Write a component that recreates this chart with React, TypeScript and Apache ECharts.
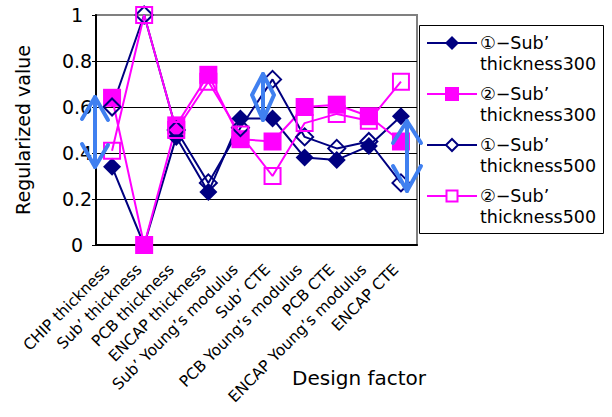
import React, { useEffect, useRef } from "react";
import * as echarts from "echarts";

const FONT = "'DejaVu Sans', 'Noto Sans CJK JP', sans-serif";
const NAVY = "#000080";
const MAGENTA = "#ff00ff";
const ARROW = "#4080f0";

const categories = [
  "CHIP thickness",
  "Sub’ thickness",
  "PCB thickness",
  "ENCAP thickness",
  "Sub’ Young’s modulus",
  "Sub’ CTE",
  "PCB Young’s modulus",
  "PCB CTE",
  "ENCAP Young’s modulus",
  "ENCAP CTE",
];

const seriesNames = [
  "①−Sub’ thickness300",
  "②−Sub’ thickness300",
  "①−Sub’ thickness500",
  "②−Sub’ thickness500",
];

const sub1Thick300 = [0.34, 0.0, 0.47, 0.23, 0.55, 0.55, 0.38, 0.37, 0.43, 0.56];
const sub2Thick300 = [0.64, 0.0, 0.52, 0.74, 0.46, 0.45, 0.6, 0.61, 0.56, 0.45];
const sub1Thick500 = [0.6, 1.0, 0.5, 0.27, 0.51, 0.72, 0.47, 0.42, 0.45, 0.27];
const sub2Thick500 = [0.41, 1.0, 0.5, 0.71, 0.48, 0.3, 0.53, 0.57, 0.54, 0.71];

const yTicks = { min: 0, max: 1, interval: 0.2 };

export default function App() {
  const ref = useRef<HTMLDivElement>(null);

  useEffect(() => {
    if (!ref.current) return;
    const chart = echarts.init(ref.current, null, { renderer: "svg" });

    const filled = (color: string) => ({ color });
    const open = (color: string) => ({
      color: "rgba(255,255,255,0)",
      borderColor: color,
      borderWidth: 2,
    });

    const mk = (
      name: string,
      data: number[],
      color: string,
      symbol: string,
      size: number,
      isOpen: boolean
    ) => ({
      name,
      type: "line",
      data,
      symbol,
      symbolSize: size,
      showAllSymbol: true,
      lineStyle: { color, width: 2 },
      itemStyle: isOpen ? open(color) : filled(color),
      emphasis: { disabled: true },
      silent: true,
    });

    // legend (drawn as graphic)
    const legendRows = [
      { color: NAVY, shape: "diamond", open: false, l1: "①−Sub’", l2: "thickness300" },
      { color: MAGENTA, shape: "square", open: false, l1: "②−Sub’", l2: "thickness300" },
      { color: NAVY, shape: "diamond", open: true, l1: "①−Sub’", l2: "thickness500" },
      { color: MAGENTA, shape: "square", open: true, l1: "②−Sub’", l2: "thickness500" },
    ];
    const legendEls: any[] = [
      {
        type: "rect",
        shape: { x: 419.5, y: 25.5, width: 184, height: 208 },
        style: { fill: "#fff", stroke: "#000", lineWidth: 1 },
        z: 50,
      },
    ];
    legendRows.forEach((r, i) => {
      const y = 43 + 51 * i;
      legendEls.push({
        type: "line",
        shape: { x1: 427, y1: y, x2: 477, y2: y },
        style: { stroke: r.color, lineWidth: 2 },
        z: 51,
      });
      if (r.shape === "diamond") {
        const h = r.open ? 6 : 7;
        legendEls.push({
          type: "polygon",
          shape: { points: [[452, y - h], [452 + h, y], [452, y + h], [452 - h, y]] },
          style: r.open
            ? { fill: "#fff", stroke: r.color, lineWidth: 2 }
            : { fill: r.color },
          z: 52,
        });
      } else {
        const s = r.open ? 11 : 14;
        legendEls.push({
          type: "rect",
          shape: { x: 452 - s / 2, y: y - s / 2, width: s, height: s },
          style: r.open
            ? { fill: "#fff", stroke: r.color, lineWidth: 2 }
            : { fill: r.color },
          z: 52,
        });
      }
      legendEls.push({
        type: "text",
        x: 480,
        y: y - 11,
        style: {
          text: r.l1 + "\n" + r.l2,
          fontFamily: FONT,
          fontSize: 17.5,
          lineHeight: 21,
          fill: "#000",
          verticalAlign: "top",
        },
        z: 52,
      });
    });

    // blue double-headed arrows (annotations)
    const arrowStyle = { stroke: ARROW, lineWidth: 4, fill: "none", lineCap: "round", lineJoin: "round" };
    const arrows: any[] = [
      { type: "line", shape: { x1: 95, y1: 97, x2: 95, y2: 167 }, style: arrowStyle, z: 60 },
      { type: "polyline", shape: { points: [[82, 119], [95, 97], [108, 120]] }, style: arrowStyle, z: 60 },
      { type: "polyline", shape: { points: [[82, 144], [95, 167], [108, 145]] }, style: arrowStyle, z: 60 },
      { type: "line", shape: { x1: 263, y1: 74, x2: 263, y2: 120 }, style: arrowStyle, z: 60 },
      { type: "polygon", shape: { points: [[263, 74], [252, 95], [263, 120], [274, 95]] }, style: arrowStyle, z: 60 },
      { type: "line", shape: { x1: 407, y1: 121, x2: 407, y2: 191 }, style: arrowStyle, z: 60 },
      { type: "polyline", shape: { points: [[393, 143], [407, 121], [421, 143]] }, style: arrowStyle, z: 60 },
      { type: "polyline", shape: { points: [[393, 166], [407, 191], [421, 166]] }, style: arrowStyle, z: 60 },
    ];

    chart.setOption({
      animation: false,
      backgroundColor: "#fff",
      textStyle: { fontFamily: FONT, color: "#000" },
      grid: {
        left: 96,
        right: 195,
        top: 15,
        bottom: 172,
        show: true,
        borderColor: "#808080",
        borderWidth: 2,
        backgroundColor: "transparent",
        containLabel: false,
        outerBoundsMode: "none",
      },
      xAxis: {
        type: "category",
        data: categories,
        boundaryGap: true,
        axisLine: { lineStyle: { color: "#000", width: 2 } },
        axisTick: { inside: true, length: 5, lineStyle: { color: "#000", width: 1 } },
        axisLabel: {
          rotate: 45,
          interval: 0,
          margin: 17,
          padding: [0, 7, 0, 0],
          fontSize: 15.5,
          color: "#000",
          fontFamily: FONT,
          hideOverlap: false,
        },
        splitLine: { show: false },
      },
      yAxis: {
        type: "value",
        min: yTicks.min,
        max: yTicks.max,
        interval: yTicks.interval,
        axisLine: { show: true, lineStyle: { color: "#000", width: 2 } },
        axisTick: { show: true, length: 4, lineStyle: { color: "#000" } },
        axisLabel: { align: "center", margin: 19, fontSize: 19, color: "#000", fontFamily: FONT },
        splitLine: {
          show: true,
          lineStyle: { color: ["#000", "#000", "#000", "#000", "#000", "#808080"], width: 1 },
        },
        name: "Regularized value",
        nameLocation: "middle",
        nameGap: 64,
        nameTextStyle: { fontSize: 19, color: "#000", fontFamily: FONT },
      },
      series: [
        mk(seriesNames[0], sub1Thick300, NAVY, "diamond", 18, false),
        mk(seriesNames[1], sub2Thick300, MAGENTA, "rect", 18, false),
        mk(seriesNames[2], sub1Thick500, NAVY, "diamond", 17, true),
        mk(seriesNames[3], sub2Thick500, MAGENTA, "rect", 16, true),
      ],
      graphic: [
        ...legendEls,
        ...arrows,
        {
          type: "text",
          x: 359,
          y: 378,
          style: {
            text: "Design factor",
            fontFamily: FONT,
            fontSize: 20,
            fill: "#000",
            align: "center",
            verticalAlign: "middle",
          },
          z: 52,
        },
      ],
    });

    return () => chart.dispose();
  }, []);

  return (
    <div
      ref={ref}
      style={{ position: "fixed", left: 0, top: 0, width: 612, height: 417, background: "#fff" }}
    />
  );
}
